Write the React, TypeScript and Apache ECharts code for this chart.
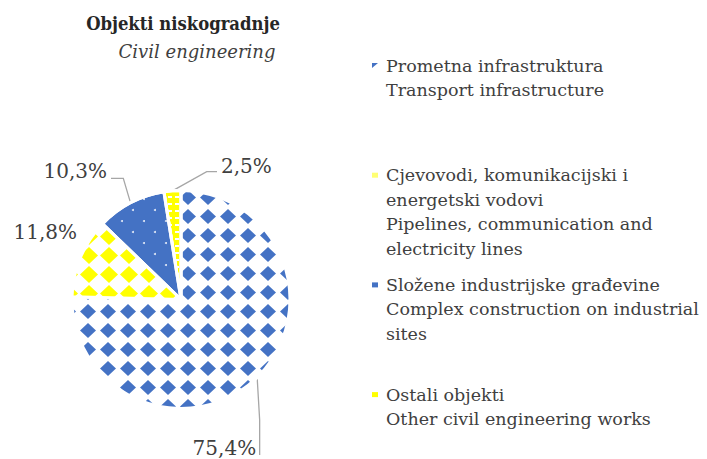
import React, { useEffect, useRef } from 'react';
import * as echarts from 'echarts';

// ---- data ----
const categories = [
  'Prometna infrastruktura',
  'Cjevovodi, komunikacijski i energetski vodovi',
  'Složene industrijske građevine',
  'Ostali objekti',
];
const values = [75.4, 2.5, 10.3, 11.8];
const legendLines = [
  ['Prometna infrastruktura', 'Transport infrastructure'],
  ['Cjevovodi, komunikacijski i', 'energetski vodovi', 'Pipelines, communication and', 'electricity lines'],
  ['Složene industrijske građevine', 'Complex construction on industrial', 'sites'],
  ['Ostali objekti', 'Other civil engineering works'],
];
const titleText = 'Objekti niskogradnje';
const subtitleText = 'Civil engineering';

// ---- styles ----
const FONT = '"DejaVu Serif"';
const BLUE = '#4472C4';
const YELLOW = '#FFFF00';
const TEXT = '#404040';

const baseColors = ['#FFFFFF', YELLOW, BLUE, '#FFFFFF'];
const decals: any[] = [
  { symbol: 'diamond', symbolSize: 1, dashArrayX: [16, 4], dashArrayY: [15, 4], color: BLUE },
  { symbol: 'rect', symbolSize: 1, dashArrayX: [4, 3], dashArrayY: [2, 5], color: '#FFFFFF' },
  { symbol: 'circle', symbolSize: 1, dashArrayX: [[2, 20], [0, 11, 2, 9]], dashArrayY: [2, 9], color: 'rgba(255,255,255,0.85)' },
  { symbol: 'diamond', symbolSize: 1, dashArrayX: [18, 2], dashArrayY: [17, 2], color: YELLOW },
];
const legendIcons = [
  { icon: 'path://M0,0L6,0L0,5Z', color: BLUE },
  { icon: 'rect', color: 'rgba(255,255,0,0.55)' },
  { icon: 'rect', color: BLUE },
  { icon: 'rect', color: YELLOW },
];

const LEGEND_TOP = 55.5;
const LEGEND_ROW = 20;
const LEGEND_GAP = 89.7;
const CONT_LH = 24.5;

export default function App() {
  const ref = useRef<HTMLDivElement>(null);
  useEffect(() => {
    if (!ref.current) return;
    const chart = echarts.init(ref.current, undefined, { renderer: 'svg' });

    const contTexts = legendLines.map((lines, i) => {
      const center = LEGEND_TOP + LEGEND_ROW / 2 + i * (LEGEND_ROW + LEGEND_GAP);
      return {
        type: 'text',
        x: 386,
        y: center + CONT_LH / 2,
        style: {
          text: lines.slice(1).join('\n'),
          font: `17.5px ${FONT}`,
          fill: TEXT,
          lineHeight: CONT_LH,
          verticalAlign: 'top',
          align: 'left',
        },
      };
    });

    chart.setOption({
      animation: false,
      backgroundColor: '#FFFFFF',
      legend: {
        orient: 'vertical',
        left: 372,
        top: LEGEND_TOP,
        padding: 0,
        itemGap: LEGEND_GAP,
        itemWidth: 6,
        itemHeight: 5,
        selectedMode: false,
        data: categories.map((name, i) => ({
          name,
          icon: legendIcons[i].icon,
          itemStyle: { color: legendIcons[i].color, decal: 'none', borderWidth: 0 },
        })),
        formatter: (name: string) => legendLines[categories.indexOf(name)][0],
        textStyle: {
          fontFamily: FONT,
          fontSize: 17.5,
          color: TEXT,
          lineHeight: LEGEND_ROW,
          padding: [0, 0, 0, 3],
        },
      },
      graphic: [
        {
          type: 'text',
          x: 183,
          y: 23,
          style: {
            text: titleText,
            font: `bold 18.3px "DejaVu Serif Condensed", ${FONT}`,
            fill: '#262626',
            align: 'center',
            verticalAlign: 'middle',
          },
        },
        {
          type: 'text',
          x: 197,
          y: 51,
          style: {
            text: subtitleText,
            font: `italic 18px ${FONT}`,
            fill: TEXT,
            align: 'center',
            verticalAlign: 'middle',
          },
        },
        ...contTexts,
      ],
      series: [
        {
          type: 'pie',
          center: [181, 299.5],
          radius: 109,
          startAngle: 178.6,
          clockwise: false,
          avoidLabelOverlap: false,
          emphasis: { disabled: true },
          itemStyle: { borderColor: '#FFFFFF', borderWidth: 3 },
          label: {
            show: true,
            position: 'outside',
            fontFamily: FONT,
            fontSize: 20,
            color: TEXT,
            formatter: (p: any) => Number(p.value).toFixed(1).replace('.', ',') + '%',
          },
          labelLine: { show: true, lineStyle: { color: '#A6A6A6', width: 1.3 } },
          labelLayout: (params: any) => {
            const pts = params.labelLinePoints;
            const p0 = pts && pts[0] ? pts[0] : [0, 0];
            switch (params.dataIndex) {
              case 0:
                return {
                  x: p0[0] - 1, y: 448, align: 'right', verticalAlign: 'middle',
                  labelLinePoints: [p0, [p0[0] + 2.5, 420], [p0[0] + 2.5, 455]],
                };
              case 1:
                return {
                  x: 221, y: 166, align: 'left', verticalAlign: 'middle',
                  labelLinePoints: [p0, [206.7, 171.7], [217, 171.7]],
                };
              case 2:
                return {
                  x: 107, y: 171, align: 'right', verticalAlign: 'middle',
                  labelLinePoints: [p0, [123.3, 178.3], [111, 178.3]],
                };
              default:
                return { x: 77, y: 232, align: 'right', verticalAlign: 'middle' };
            }
          },
          data: categories.map((name, i) => ({
            name,
            value: values[i],
            itemStyle: { color: baseColors[i], decal: decals[i] },
            labelLine: i === 3 ? { show: false } : undefined,
          })),
        },
      ],
    } as any);

    return () => chart.dispose();
  }, []);

  return (
    <div
      ref={ref}
      style={{ position: 'absolute', left: 0, top: 0, width: 707, height: 459, background: '#FFFFFF' }}
    />
  );
}
